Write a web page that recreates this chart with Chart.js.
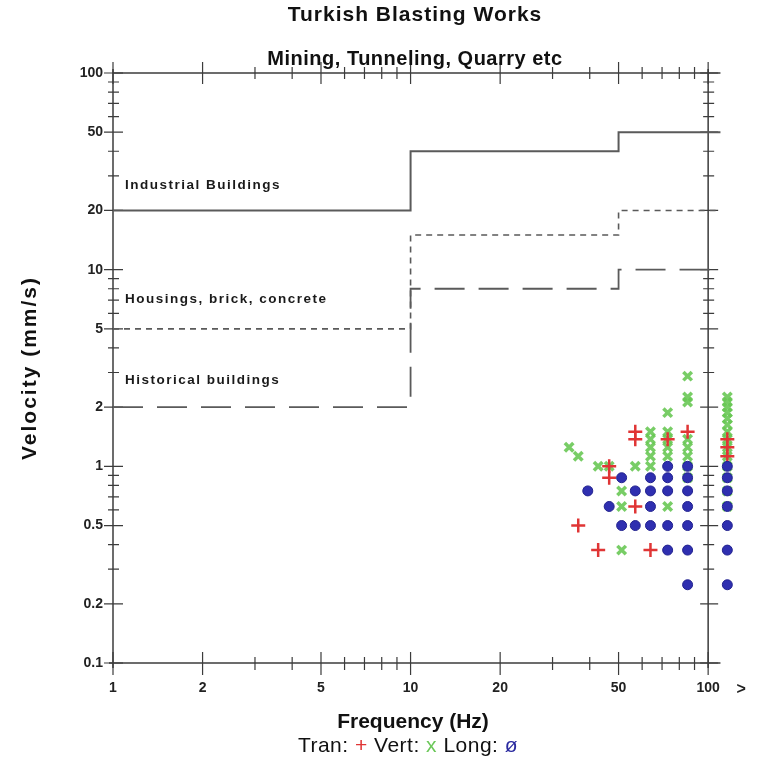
<!DOCTYPE html>
<html>
<head>
<meta charset="utf-8">
<title>Turkish Blasting Works</title>
<script src="https://cdn.jsdelivr.net/npm/chart.js@4/dist/chart.umd.min.js"></script>
<style>
  html, body { margin: 0; padding: 0; background: #fff; }
  canvas { display: block; }
</style>
</head>
<body>
<canvas id="chart" width="757" height="764"></canvas>
<script>
// limit curves (frequency Hz -> peak particle velocity mm/s)
const limitFreqs = [1, 10, 50, 110];
const industrialLimit = [20, 40, 50, 50];
const housingLimit = [5, 15, 20, 20];
const historicalLimit = [2, 8, 10, 10];

// measured points, [frequency Hz, velocity mm/s]; 116 stands for the ">100" column
const tranPoints = [
  [36.6, 0.5], [42.7, 0.375], [46.5, 1.0], [46.5, 0.875],
  [56.9, 1.5], [56.9, 1.375], [56.9, 0.625], [64, 0.375],
  [73.1, 1.375], [85.3, 1.5],
  [116, 1.375], [116, 1.25], [116, 1.125]
];
const vertPoints = [
  [34.1, 1.25], [36.6, 1.125], [42.7, 1.0], [46.5, 1.0],
  [51.2, 0.75], [51.2, 0.625], [51.2, 0.375], [56.9, 1.0],
  [64, 1.5], [64, 1.375], [64, 1.25], [64, 1.125], [64, 1.0],
  [73.1, 1.875], [73.1, 1.5], [73.1, 1.375], [73.1, 1.25], [73.1, 1.125], [73.1, 0.625],
  [85.3, 2.875], [85.3, 2.25], [85.3, 2.125], [85.3, 1.375], [85.3, 1.25], [85.3, 1.125], [85.3, 1.0], [85.3, 0.875],
  [116, 2.25], [116, 2.125], [116, 2.0], [116, 1.875], [116, 1.75], [116, 1.625], [116, 1.5],
  [116, 1.375], [116, 1.25], [116, 1.125], [116, 1.0], [116, 0.875], [116, 0.75], [116, 0.625]
];
const longPoints = [
  [39.4, 0.75], [46.5, 0.625], [51.2, 0.875], [51.2, 0.5],
  [56.9, 0.75], [56.9, 0.5],
  [64, 0.875], [64, 0.75], [64, 0.625], [64, 0.5],
  [73.1, 1.0], [73.1, 0.875], [73.1, 0.75], [73.1, 0.5], [73.1, 0.375],
  [85.3, 1.0], [85.3, 0.875], [85.3, 0.75], [85.3, 0.625], [85.3, 0.5], [85.3, 0.375], [85.3, 0.25],
  [116, 1.0], [116, 0.875], [116, 0.75], [116, 0.625], [116, 0.5], [116, 0.375], [116, 0.25]
];

// axes
const xMajorTicks = [1, 2, 5, 10, 20, 50, 100];
const xMinorTicks = [3, 4, 6, 7, 8, 9, 30, 40, 60, 70, 80, 90];
const yMajorTicks = [0.1, 0.2, 0.5, 1, 2, 5, 10, 20, 50, 100];
const yMinorTicks = [0.3, 0.4, 0.6, 0.7, 0.8, 0.9, 3, 4, 6, 7, 8, 9, 30, 40, 60, 70, 80, 90];
const xRange = [1, 133];
const yRange = [0.1, 100];

const zoneLabels = [
  ["Industrial Buildings", 26.9],
  ["Housings, brick, concrete", 7.1],
  ["Historical buildings", 2.75]
];

const toXY = arr => arr.map(p => ({ x: p[0], y: p[1] }));
const stepLine = vals => limitFreqs.map((f, i) => ({ x: f, y: vals[i] }));

const FONT = "'Liberation Sans', Arial, sans-serif";
const AXIS = "#3c3c3c";

function spacedText(ctx, text, x, y, spacing) {
  ctx.letterSpacing = spacing + "px";
  ctx.fillText(text, x, y);
  ctx.letterSpacing = "0px";
}

// axes, ticks and all the labels, placed through the chart's scales
const framePlugin = {
  id: "frame",
  beforeDatasetsDraw(chart) {
    const ctx = chart.ctx;
    const xs = chart.scales.x, ys = chart.scales.y;
    const L = xs.getPixelForValue(1), R = xs.getPixelForValue(100);
    const T = ys.getPixelForValue(100), B = ys.getPixelForValue(0.1);
    const Rext = xs.getPixelForValue(110);

    ctx.save();
    ctx.strokeStyle = AXIS;
    ctx.lineWidth = 1.5;
    ctx.beginPath();
    ctx.moveTo(L, T - 4); ctx.lineTo(L, B + 5);
    ctx.moveTo(R, T - 4); ctx.lineTo(R, B + 5);
    ctx.moveTo(L, T); ctx.lineTo(Rext, T);
    ctx.moveTo(L - 4, B); ctx.lineTo(Rext, B);
    ctx.stroke();

    ctx.lineWidth = 1.2;
    ctx.beginPath();
    xMajorTicks.forEach(v => {
      const x = xs.getPixelForValue(v);
      ctx.moveTo(x, B - 11); ctx.lineTo(x, B + 12);
      ctx.moveTo(x, T - 11); ctx.lineTo(x, T + 11);
    });
    xMinorTicks.forEach(v => {
      const x = xs.getPixelForValue(v);
      ctx.moveTo(x, B - 6); ctx.lineTo(x, B + 7);
      ctx.moveTo(x, T - 6); ctx.lineTo(x, T + 6);
    });
    yMajorTicks.forEach(v => {
      const y = ys.getPixelForValue(v);
      ctx.moveTo(L - 9, y); ctx.lineTo(L + 10, y);
      ctx.moveTo(R - 8, y); ctx.lineTo(R + 10, y);
    });
    yMinorTicks.forEach(v => {
      const y = ys.getPixelForValue(v);
      ctx.moveTo(L - 5, y); ctx.lineTo(L + 6, y);
      ctx.moveTo(R - 5, y); ctx.lineTo(R + 6, y);
    });
    ctx.stroke();

    // tick labels
    ctx.fillStyle = "#222";
    ctx.font = "bold 14px " + FONT;
    ctx.textAlign = "right";
    ctx.textBaseline = "middle";
    yMajorTicks.forEach(v => ctx.fillText(String(v), L - 10, ys.getPixelForValue(v)));
    ctx.textAlign = "center";
    xMajorTicks.forEach(v => ctx.fillText(String(v), xs.getPixelForValue(v), B + 25));
    ctx.font = "bold 16px " + FONT;
    ctx.fillText(">", R + 33, B + 27);

    // titles
    const cx = 415;
    ctx.fillStyle = "#111";
    ctx.font = "bold 21px " + FONT;
    spacedText(ctx, "Turkish Blasting Works", cx, 15, 1);
    ctx.font = "bold 20px " + FONT;
    spacedText(ctx, "Mining, Tunneling, Quarry etc", cx, 59, 0.5);
    ctx.font = "bold 21px " + FONT;
    ctx.fillText("Frequency (Hz)", 413, 722);

    ctx.save();
    ctx.translate(30, 368);
    ctx.rotate(-Math.PI / 2);
    spacedText(ctx, "Velocity (mm/s)", 0, 0, 2);
    ctx.restore();

    // legend line
    ctx.font = "21px " + FONT;
    ctx.letterSpacing = "0.5px";
    const parts = [["Tran: ", "#111"], ["+", "#e03535"], [" Vert: ", "#111"], ["x", "#6cc85a"], [" Long: ", "#111"], ["\u00f8", "#2b2ba0"]];
    const total = parts.reduce((s, p) => s + ctx.measureText(p[0]).width, 0);
    let px = 408 - total / 2;
    ctx.textAlign = "left";
    parts.forEach(p => {
      ctx.fillStyle = p[1];
      ctx.fillText(p[0], px, 746);
      px += ctx.measureText(p[0]).width;
    });
    ctx.letterSpacing = "0px";

    // zone labels
    ctx.fillStyle = "#1a1a1a";
    ctx.font = "bold 13.5px " + FONT;
    zoneLabels.forEach(z => spacedText(ctx, z[0], L + 12, ys.getPixelForValue(z[1]), 1.5));
    ctx.restore();
  }
};

const pointBase = { showLine: false, clip: false, pointHoverRadius: 6 };

new Chart(document.getElementById("chart"), {
  type: "scatter",
  data: {
    datasets: [
      {
        label: "Industrial Buildings",
        data: stepLine(industrialLimit),
        showLine: true, stepped: "before", borderColor: "#5a5a5a", borderWidth: 2,
        pointRadius: 0, fill: false, order: 5
      },
      {
        label: "Housings, brick, concrete",
        data: stepLine(housingLimit),
        showLine: true, stepped: "before", borderColor: "#5a5a5a", borderWidth: 1.6,
        borderDash: [6, 5], pointRadius: 0, fill: false, order: 5
      },
      {
        label: "Historical buildings",
        data: stepLine(historicalLimit),
        showLine: true, stepped: "before", borderColor: "#5a5a5a", borderWidth: 1.8,
        borderDash: [30, 14], pointRadius: 0, fill: false, order: 5
      },
      Object.assign({
        label: "Vert",
        data: toXY(vertPoints),
        pointStyle: "crossRot", pointRadius: 6, borderWidth: 3.5,
        borderColor: "rgba(105,200,85,0.9)", backgroundColor: "rgba(105,200,85,0.9)", order: 3
      }, pointBase),
      Object.assign({
        label: "Tran",
        data: toXY(tranPoints),
        pointStyle: "cross", pointRadius: 7, borderWidth: 2.5,
        borderColor: "#e03535", backgroundColor: "#e03535", order: 2
      }, pointBase),
      Object.assign({
        label: "Long",
        data: toXY(longPoints),
        pointStyle: "circle", pointRadius: 5, borderWidth: 1,
        borderColor: "#23238f", backgroundColor: "#2f2fb0", order: 1
      }, pointBase)
    ]
  },
  options: {
    responsive: false,
    animation: false,
    layout: { padding: { left: 113, right: 12, top: 73, bottom: 101 } },
    plugins: { legend: { display: false }, title: { display: false }, tooltip: { enabled: false } },
    scales: {
      x: { type: "logarithmic", min: xRange[0], max: xRange[1], display: false },
      y: { type: "logarithmic", min: yRange[0], max: yRange[1], display: false }
    }
  },
  plugins: [framePlugin]
});
</script>
</body>
</html>
